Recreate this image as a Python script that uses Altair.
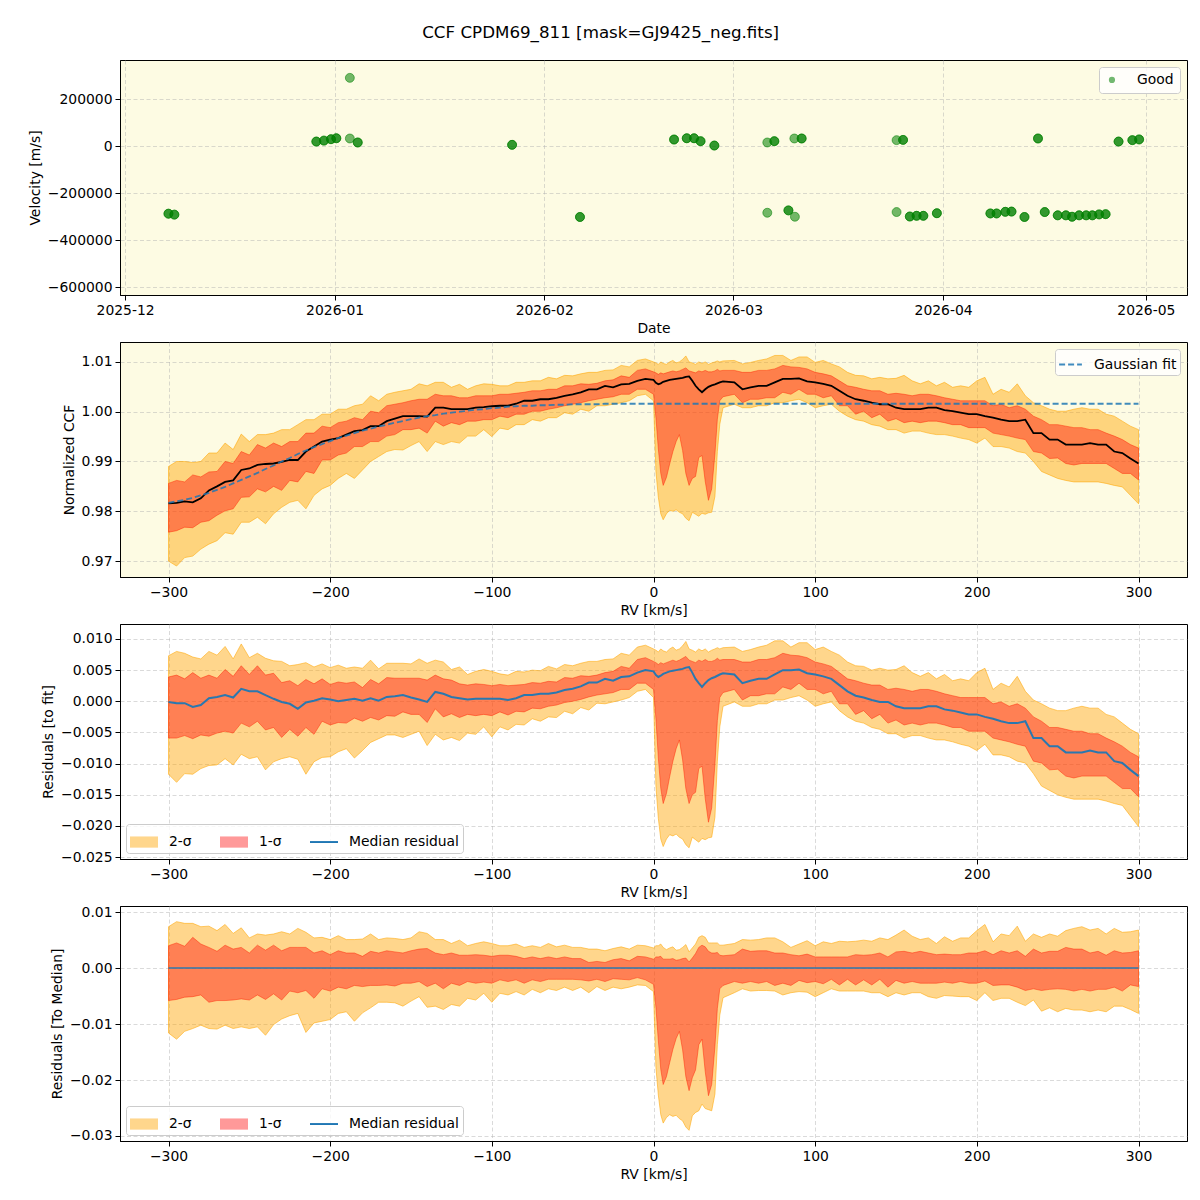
import altair as alt
import pandas as pd

FONT = "DejaVu Sans"
PLOT_BG = "#fdfbe3"
PANEL_W, PANEL_H = 1067, 235

# ---------------- nightly radial velocities (top panel) ----------------
night_time = [
    "2025-12-07T10:00:00Z", "2025-12-08T07:00:00Z", "2025-12-29T07:00:00Z",
    "2025-12-30T10:00:00Z", "2025-12-31T11:00:00Z", "2026-01-01T06:00:00Z",
    "2026-01-03T06:00:00Z", "2026-01-03T06:00:00Z", "2026-01-04T10:00:00Z",
    "2026-01-27T06:00:00Z", "2026-02-06T07:00:00Z", "2026-02-20T05:00:00Z",
    "2026-02-22T02:00:00Z", "2026-02-23T04:00:00Z", "2026-02-24T03:00:00Z",
    "2026-02-26T04:00:00Z", "2026-03-06T00:00:00Z", "2026-03-06T00:00:00Z",
    "2026-03-07T01:00:00Z", "2026-03-09T03:00:00Z", "2026-03-10T00:00:00Z",
    "2026-03-10T02:00:00Z", "2026-03-11T02:00:00Z", "2026-03-25T03:00:00Z",
    "2026-03-25T03:00:00Z", "2026-03-26T02:00:00Z", "2026-03-27T02:00:00Z",
    "2026-03-28T02:00:00Z", "2026-03-29T02:00:00Z", "2026-03-31T02:00:00Z",
    "2026-04-08T00:00:00Z", "2026-04-08T22:00:00Z", "2026-04-10T05:00:00Z",
    "2026-04-11T03:00:00Z", "2026-04-13T01:00:00Z", "2026-04-15T01:00:00Z",
    "2026-04-16T01:00:00Z", "2026-04-17T23:00:00Z", "2026-04-19T04:00:00Z",
    "2026-04-20T02:00:00Z", "2026-04-21T03:00:00Z", "2026-04-22T04:00:00Z",
    "2026-04-23T02:00:00Z", "2026-04-24T02:00:00Z", "2026-04-25T01:00:00Z",
    "2026-04-26T23:00:00Z", "2026-04-29T00:00:00Z", "2026-04-30T00:00:00Z",
]
night_rv = [
    -286000, -290000, 21000,
    25000, 31000, 35000,
    292000, 34000, 17000,
    7000, -300000, 29600,
    35000, 35000, 22600,
    4000, 17000, -282000,
    22600, -272000, 34000,
    -299000, 34000, 27000,
    -279000, 28000, -298000,
    -295000, -295000, -284000,
    -285000, -285000, -278000,
    -277000, -300000, 34000,
    -279000, -293000, -293000,
    -299000, -293000, -293000,
    -293000, -289000, -288000,
    21000, 27000, 30000,
]
# exposures taken on each night
night_nexp = [
    2, 2, 2,
    2, 2, 2,
    1, 1, 2,
    2, 2, 2,
    2, 2, 2,
    2, 1, 1,
    2, 2, 1,
    1, 2, 1,
    1, 2, 2,
    2, 2, 2,
    2, 2, 2,
    2, 2, 2,
    2, 2, 2,
    2, 2, 2,
    2, 2, 2,
    2, 2, 2,
]

# ---------------- CCF profile statistics vs RV ----------------
rv_kms = [
    -300, -295, -290, -285, -280, -275, -270, -265, -260, -255,
    -250, -245, -240, -235, -230, -225, -220, -215, -210, -205,
    -200, -195, -190, -185, -180, -175, -170, -165, -160, -155,
    -150, -145, -140, -135, -130, -125, -120, -115, -110, -105,
    -100, -95, -90, -85, -80, -75, -70, -65, -60, -55,
    -50, -45, -40, -35, -30, -25, -20, -15, -10, -5,
    0, 1.5, 3, 4.5, 6, 8, 10, 12, 14, 16, 18, 20,
    22, 24, 26, 28, 30, 32, 34, 36, 38, 39.5, 41, 43,
    50, 55, 60, 65, 70, 75, 80, 85, 90, 95,
    100, 105, 110, 115, 120, 125, 130, 135, 140, 145,
    150, 155, 160, 165, 170, 175, 180, 185, 190, 195,
    200, 205, 210, 215, 220, 225, 230, 235, 240, 245,
    250, 255, 260, 265, 270, 275, 280, 285, 290, 295,
    300,
]
ccf_hi2 = [
    0.9890, 0.9900, 0.9900, 0.9898, 0.9900, 0.9917, 0.9917, 0.9937, 0.9924, 0.9955,
    0.9940, 0.9954, 0.9954, 0.9957, 0.9964, 0.9964, 0.9974, 0.9984, 0.9984, 0.9995,
    0.9995, 1.0005, 1.0005, 1.0012, 1.0015, 1.0032, 1.0022, 1.0035, 1.0039, 1.0042,
    1.0045, 1.0056, 1.0052, 1.0059, 1.0059, 1.0049, 1.0055, 1.0045, 1.0052, 1.0056,
    1.0055, 1.0052, 1.0052, 1.0059, 1.0059, 1.0062, 1.0062, 1.0069, 1.0066, 1.0073,
    1.0072, 1.0076, 1.0079, 1.0079, 1.0083, 1.0084, 1.0093, 1.0090, 1.0103, 1.0106,
    1.0100, 1.0098, 1.0095, 1.0100, 1.0097, 1.0095, 1.0100, 1.0103, 1.0098, 1.0100, 1.0105, 1.0112,
    1.0100, 1.0098, 1.0095, 1.0100, 1.0097, 1.0100, 1.0095, 1.0098, 1.0100, 1.0102, 1.0100, 1.0102,
    1.0103, 1.0096, 1.0099, 1.0103, 1.0106, 1.0113, 1.0113, 1.0103, 1.0110, 1.0110,
    1.0099, 1.0103, 1.0096, 1.0090, 1.0079, 1.0073, 1.0072, 1.0066, 1.0069, 1.0066,
    1.0067, 1.0073, 1.0062, 1.0056, 1.0062, 1.0052, 1.0059, 1.0049, 1.0052, 1.0049,
    1.0062, 1.0069, 1.0035, 1.0045, 1.0039, 1.0056, 1.0032, 1.0018, 1.0012, 1.0005,
    1.0001, 1.0001, 1.0005, 1.0008, 1.0005, 1.0005, 0.9995, 0.9991, 0.9981, 0.9971,
    0.9964,
]
ccf_hi1 = [
    0.9856, 0.9862, 0.9859, 0.9873, 0.9869, 0.9879, 0.9880, 0.9900, 0.9896, 0.9920,
    0.9913, 0.9934, 0.9927, 0.9937, 0.9930, 0.9940, 0.9940, 0.9957, 0.9957, 0.9971,
    0.9968, 0.9978, 0.9981, 0.9988, 0.9984, 1.0001, 0.9998, 1.0012, 1.0015, 1.0018,
    1.0022, 1.0025, 1.0025, 1.0035, 1.0032, 1.0032, 1.0028, 1.0028, 1.0032, 1.0032,
    1.0032, 1.0035, 1.0035, 1.0037, 1.0039, 1.0042, 1.0042, 1.0045, 1.0045, 1.0052,
    1.0052, 1.0056, 1.0055, 1.0057, 1.0062, 1.0064, 1.0072, 1.0069, 1.0083, 1.0086,
    1.0080, 1.0078, 1.0075, 1.0078, 1.0076, 1.0078, 1.0080, 1.0082, 1.0080, 1.0082, 1.0085, 1.0088,
    1.0082, 1.0080, 1.0078, 1.0082, 1.0080, 1.0083, 1.0080, 1.0080, 1.0082, 1.0085, 1.0082, 1.0083,
    1.0083, 1.0079, 1.0079, 1.0083, 1.0083, 1.0086, 1.0093, 1.0090, 1.0089, 1.0086,
    1.0079, 1.0076, 1.0072, 1.0062, 1.0052, 1.0049, 1.0045, 1.0042, 1.0042, 1.0035,
    1.0037, 1.0035, 1.0032, 1.0035, 1.0035, 1.0032, 1.0028, 1.0025, 1.0022, 1.0022,
    1.0022, 1.0022, 1.0012, 1.0015, 1.0008, 1.0012, 1.0005, 0.9991, 0.9984, 0.9974,
    0.9974, 0.9971, 0.9968, 0.9968, 0.9964, 0.9964, 0.9957, 0.9951, 0.9944, 0.9934,
    0.9927,
]
ccf_median = [
    0.9816, 0.9817, 0.9820, 0.9818, 0.9826, 0.9842, 0.9850, 0.9859, 0.9862, 0.9883,
    0.9886, 0.9893, 0.9895, 0.9896, 0.9899, 0.9903, 0.9903, 0.9920, 0.9930, 0.9940,
    0.9944, 0.9947, 0.9954, 0.9961, 0.9963, 0.9971, 0.9971, 0.9981, 0.9986, 0.9991,
    0.9991, 0.9991, 0.9990, 1.0008, 1.0008, 1.0005, 1.0005, 1.0005, 1.0008, 1.0009,
    1.0011, 1.0012, 1.0012, 1.0016, 1.0022, 1.0022, 1.0025, 1.0025, 1.0028, 1.0032,
    1.0035, 1.0039, 1.0045, 1.0045, 1.0052, 1.0049, 1.0055, 1.0056, 1.0062, 1.0066,
    1.0064, 1.0058, 1.0055, 1.0057, 1.0060, 1.0062, 1.0064, 1.0065, 1.0066, 1.0067, 1.0068, 1.0070,
    1.0071, 1.0062, 1.0052, 1.0045, 1.0039, 1.0045, 1.0050, 1.0053, 1.0055, 1.0057, 1.0059, 1.0061,
    1.0059, 1.0045, 1.0049, 1.0052, 1.0052, 1.0059, 1.0066, 1.0066, 1.0067, 1.0061,
    1.0059, 1.0056, 1.0052, 1.0042, 1.0032, 1.0025, 1.0022, 1.0018, 1.0015, 1.0015,
    1.0008, 1.0005, 1.0005, 1.0005, 1.0008, 1.0008, 1.0003, 1.0001, 0.9998, 0.9995,
    0.9995, 0.9991, 0.9988, 0.9984, 0.9981, 0.9981, 0.9984, 0.9957, 0.9957, 0.9944,
    0.9944, 0.9934, 0.9934, 0.9934, 0.9937, 0.9934, 0.9934, 0.9920, 0.9917, 0.9906,
    0.9896,
]
ccf_lo1 = [
    0.9758, 0.9761, 0.9768, 0.9767, 0.9778, 0.9781, 0.9792, 0.9801, 0.9805, 0.9828,
    0.9829, 0.9845, 0.9839, 0.9850, 0.9842, 0.9862, 0.9859, 0.9880, 0.9876, 0.9903,
    0.9903, 0.9913, 0.9917, 0.9930, 0.9930, 0.9940, 0.9940, 0.9951, 0.9954, 0.9964,
    0.9964, 0.9967, 0.9957, 0.9981, 0.9971, 0.9978, 0.9974, 0.9981, 0.9981, 0.9984,
    0.9984, 0.9991, 0.9988, 0.9995, 0.9995, 1.0001, 1.0001, 1.0005, 1.0008, 1.0012,
    1.0015, 1.0018, 1.0022, 1.0025, 1.0028, 1.0030, 1.0035, 1.0035, 1.0045, 1.0045,
    1.0035, 0.9988, 0.9925, 0.9876, 0.9852, 0.9868, 0.9895, 0.9920, 0.9940, 0.9954, 0.9922, 0.9876,
    0.9852, 0.9866, 0.9870, 0.9908, 0.9912, 0.9860, 0.9822, 0.9845, 0.9915, 0.9985, 1.0022, 1.0030,
    1.0035, 1.0018, 1.0025, 1.0025, 1.0028, 1.0028, 1.0039, 1.0035, 1.0045, 1.0035,
    1.0035, 1.0028, 1.0032, 1.0012, 1.0012, 0.9995, 1.0001, 0.9988, 0.9995, 0.9981,
    0.9986, 0.9978, 0.9981, 0.9978, 0.9981, 0.9981, 0.9978, 0.9974, 0.9974, 0.9968,
    0.9968, 0.9968, 0.9957, 0.9954, 0.9951, 0.9947, 0.9944, 0.9920, 0.9917, 0.9906,
    0.9907, 0.9896, 0.9893, 0.9896, 0.9896, 0.9896, 0.9896, 0.9886, 0.9876, 0.9876,
    0.9863,
]
ccf_lo2 = [
    0.9700, 0.9690, 0.9707, 0.9710, 0.9724, 0.9734, 0.9741, 0.9757, 0.9754, 0.9778,
    0.9778, 0.9788, 0.9775, 0.9795, 0.9808, 0.9818, 0.9822, 0.9805, 0.9832, 0.9845,
    0.9852, 0.9866, 0.9876, 0.9866, 0.9883, 0.9900, 0.9910, 0.9920, 0.9924, 0.9923,
    0.9932, 0.9940, 0.9920, 0.9940, 0.9934, 0.9940, 0.9937, 0.9951, 0.9951, 0.9964,
    0.9950, 0.9967, 0.9964, 0.9974, 0.9974, 0.9984, 0.9981, 0.9988, 0.9988, 0.9998,
    0.9995, 1.0005, 1.0001, 1.0012, 1.0012, 1.0015, 1.0018, 1.0022, 1.0032, 1.0035,
    1.0022, 0.9880, 0.9828, 0.9795, 0.9783, 0.9795, 0.9802, 0.9800, 0.9803, 0.9798, 0.9795, 0.9786,
    0.9781, 0.9798, 0.9794, 0.9790, 0.9796, 0.9794, 0.9797, 0.9798, 0.9830, 0.9920, 0.9975, 1.0008,
    1.0015, 1.0008, 1.0008, 1.0012, 1.0012, 1.0018, 1.0018, 1.0022, 1.0025, 1.0018,
    1.0008, 1.0012, 1.0015, 1.0001, 0.9991, 0.9984, 0.9981, 0.9974, 0.9971, 0.9964,
    0.9964, 0.9957, 0.9961, 0.9961, 0.9957, 0.9954, 0.9954, 0.9951, 0.9947, 0.9944,
    0.9937, 0.9947, 0.9930, 0.9930, 0.9927, 0.9920, 0.9917, 0.9900, 0.9880, 0.9873,
    0.9866, 0.9862, 0.9859, 0.9859, 0.9859, 0.9859, 0.9856, 0.9852, 0.9849, 0.9832,
    0.9815,
]
gauss_fit = [
    0.9817, 0.9820, 0.9823, 0.9827, 0.9832, 0.9837, 0.9843, 0.9849, 0.9856, 0.9863,
    0.9870, 0.9877, 0.9885, 0.9892, 0.9900, 0.9907, 0.9915, 0.9922, 0.9929, 0.9935,
    0.9941, 0.9947, 0.9952, 0.9957, 0.9962, 0.9966, 0.9970, 0.9974, 0.9978, 0.9981,
    0.9985, 0.9988, 0.9991, 0.9993, 0.9996, 0.9998, 1.0000, 1.0002, 1.0004, 1.0005,
    1.0007, 1.0008, 1.0010, 1.0011, 1.0012, 1.0012, 1.0013, 1.0013, 1.0014, 1.0014,
    1.0015, 1.0015, 1.0015, 1.0015, 1.0016, 1.0016, 1.0016, 1.0016, 1.0016, 1.0016,
    1.0016, 1.0016, 1.0016, 1.0016, 1.0016, 1.0016, 1.0016, 1.0016, 1.0016, 1.0016, 1.0016, 1.0016,
    1.0016, 1.0016, 1.0016, 1.0016, 1.0016, 1.0016, 1.0016, 1.0016, 1.0016, 1.0016, 1.0016, 1.0016,
    1.0016, 1.0016, 1.0016, 1.0016, 1.0016, 1.0016, 1.0016, 1.0016, 1.0016, 1.0016,
    1.0016, 1.0016, 1.0016, 1.0016, 1.0016, 1.0016, 1.0016, 1.0016, 1.0016, 1.0016,
    1.0016, 1.0016, 1.0016, 1.0016, 1.0016, 1.0016, 1.0016, 1.0016, 1.0016, 1.0016,
    1.0016, 1.0016, 1.0016, 1.0016, 1.0016, 1.0016, 1.0016, 1.0016, 1.0016, 1.0016,
    1.0016, 1.0016, 1.0016, 1.0016, 1.0016, 1.0016, 1.0016, 1.0016, 1.0016, 1.0016,
    1.0016,
]

band_names = ["2-σ", "1-σ", "Median residual"]

# ---------------- tables ----------------
obs_rows = []
for t, v, n in zip(night_time, night_rv, night_nexp):
    for _ in range(n):
        obs_rows.append({"time": t, "vel": v, "flag": "Good"})
obs = pd.DataFrame(obs_rows)

ccf = pd.DataFrame({
    "rv": rv_kms, "hi2": ccf_hi2, "hi1": ccf_hi1, "med": ccf_median,
    "lo1": ccf_lo1, "lo2": ccf_lo2, "fit": gauss_fit,
})
# residuals to the Gaussian fit and to the median profile
for c in ["hi2", "hi1", "med", "lo1", "lo2"]:
    ccf["f_" + c] = ccf[c] - ccf["fit"]
    ccf["m_" + c] = ccf[c] - ccf["med"]

legend_keys = pd.DataFrame({"band": band_names})

ORANGE_FILL = "rgba(255,165,0,0.45)"
RED_FILL = "rgba(255,0,0,0.4)"
ORANGE_EDGE = "rgba(255,165,0,0.55)"
RED_EDGE = "rgba(255,30,0,0.45)"
BLUE = "#1f77b4"
SWATCH = "M-1,-0.4H1V0.4H-1Z"
THIN = "M-1,-0.07H1V0.07H-1Z"

rv_scale = alt.Scale(domain=[-330, 330], nice=False, zero=False)
rv_axis = alt.Axis(title="RV [km/s]", values=[-300, -200, -100, 0, 100, 200, 300],
                   format="d", tickCount=20)

# ---------------- panel 1: velocities over time ----------------
date_scale = alt.Scale(
    type="utc",
    domain=[alt.DateTime(year=2025, month=11, date=30, hours=6, utc=True),
            alt.DateTime(year=2026, month=5, date=7, hours=2, utc=True)],
)
month_ticks = [alt.DateTime(year=y, month=m, date=1, utc=True)
               for y, m in [(2025, 12), (2026, 1), (2026, 2), (2026, 3), (2026, 4), (2026, 5)]]

p_vel = alt.Chart(obs).mark_point(
    filled=True, size=80, stroke="green", strokeWidth=1, fillOpacity=0.55, strokeOpacity=0.55
).encode(
    x=alt.X("time:T", scale=date_scale,
            axis=alt.Axis(title="Date", values=month_ticks, format="%Y-%m", tickCount=20)),
    y=alt.Y("vel:Q", scale=alt.Scale(domain=[-632000, 368000], nice=False, zero=False),
            axis=alt.Axis(title="Velocity [m/s]", labelOverlap=False, tickCount=20,
                          values=[-600000, -400000, -200000, 0, 200000], format="d")),
    color=alt.Color("flag:N", scale=alt.Scale(domain=["Good"], range=["green"]),
                    legend=alt.Legend(title=None, orient="top-right", offset=7,
                                      symbolSize=22, symbolOpacity=0.55, symbolType="circle",
                                      labelOffset=18, padding=6)),
).properties(width=PANEL_W, height=PANEL_H)

# ---------------- panel 2: normalized CCF ----------------
base = alt.Chart(ccf).encode(x=alt.X("rv:Q", scale=rv_scale, axis=rv_axis))
ccf_y = alt.Scale(domain=[0.9668, 1.0140], nice=False, zero=False)

p_ccf = alt.layer(
    base.mark_area(fill=ORANGE_FILL, stroke=ORANGE_EDGE, strokeWidth=1).encode(
        y=alt.Y("lo2:Q", scale=ccf_y,
                axis=alt.Axis(title="Normalized CCF", labelOverlap=False, tickCount=20,
                              values=[0.97, 0.98, 0.99, 1.00, 1.01], format=".2f")),
        y2="hi2:Q"),
    base.mark_area(fill=RED_FILL, stroke=RED_EDGE, strokeWidth=1).encode(y="lo1:Q", y2="hi1:Q"),
    base.mark_line(color="black", strokeWidth=1.8).encode(y="med:Q"),
    base.mark_line(strokeDash=[6, 3], strokeWidth=1.8, opacity=0.85).transform_calculate(
        model="'Gaussian fit'"
    ).encode(
        y="fit:Q",
        color=alt.Color("model:N",
                        scale=alt.Scale(domain=["Gaussian fit"], range=[BLUE]),
                        legend=alt.Legend(title=None, orient="top-right", offset=7,
                                          symbolType="stroke", symbolSize=520,
                                          symbolStrokeWidth=1.8, symbolDash=[6, 3],
                                          symbolOpacity=0.85, labelOffset=11, padding=3))),
).properties(width=PANEL_W, height=PANEL_H)

# ---------------- residual panels ----------------
band_legend = alt.Legend(
    title=None, orient="bottom-left", direction="horizontal", columns=3, offset=6,
    labelOffset=11, columnPadding=28, padding=4, symbolSize=784, symbolOpacity=1,
    symbolStrokeWidth=0,
)
band_colors = alt.Scale(domain=band_names, range=[ORANGE_FILL, RED_FILL, BLUE])
band_shapes = alt.Scale(domain=band_names, range=[SWATCH, SWATCH, THIN])


def residual_panel(prefix, title, domain, ticks, fmt, line_opacity):
    y_scale = alt.Scale(domain=domain, nice=False, zero=False)
    # legend keys only (the symbols themselves are not drawn in the plot)
    keys = alt.Chart(legend_keys).mark_point(filled=True, opacity=0).encode(
        color=alt.Color("band:N", scale=band_colors, legend=band_legend),
        shape=alt.Shape("band:N", scale=band_shapes, legend=band_legend),
    )
    return alt.layer(
        base.mark_area(fill=ORANGE_FILL, stroke=ORANGE_EDGE, strokeWidth=1).encode(
            y=alt.Y(f"{prefix}lo2:Q", scale=y_scale,
                    axis=alt.Axis(title=title, values=ticks, format=fmt,
                                  labelOverlap=False, tickCount=20)),
            y2=f"{prefix}hi2:Q"),
        base.mark_area(fill=RED_FILL, stroke=RED_EDGE, strokeWidth=1).encode(
            y=f"{prefix}lo1:Q", y2=f"{prefix}hi1:Q"),
        base.mark_line(color=BLUE, strokeWidth=2, opacity=line_opacity).encode(
            y=f"{prefix}med:Q"),
        keys,
    ).properties(width=PANEL_W, height=PANEL_H)


p_fit = residual_panel("f_", "Residuals [to fit]", [-0.0253, 0.0124],
                       [-0.025, -0.020, -0.015, -0.010, -0.005, 0.0, 0.005, 0.010], ".3f", 0.95)
p_medres = residual_panel("m_", "Residuals [To Median]", [-0.0309, 0.0111],
                          [-0.03, -0.02, -0.01, 0.0, 0.01], ".2f", 0.7)

chart = alt.vconcat(
    p_vel, p_ccf, p_fit, p_medres, spacing=47, bounds="flush"
).resolve_scale(color="independent", shape="independent").resolve_legend(
    color="independent", shape="independent"
).properties(
    title=alt.TitleParams("CCF CPDM69_811 [mask=GJ9425_neg.fits]", anchor="middle", dx=-7,
                          fontSize=16.7, font=FONT, fontWeight="normal", offset=18, color="black"),
    padding={"left": 27, "top": 24, "right": 12, "bottom": 10},
    background="white",
).configure_view(
    fill=PLOT_BG, stroke="black", strokeWidth=1
).configure_axis(
    labelFont=FONT, titleFont=FONT, labelFontSize=13.9, titleFontSize=13.9,
    titleFontWeight="normal", labelColor="black", titleColor="black",
    domainColor="black", tickColor="black", tickSize=5, labelPadding=3, titlePadding=5,
    grid=True, gridColor="#b0b0b0", gridOpacity=0.6, gridDash=[4, 2.5], gridWidth=0.8,
    labelFlush=False, labelOverlap=False, zindex=1,
).configure_legend(
    labelFont=FONT, labelFontSize=13.9, labelColor="black",
    fillColor="rgba(255,255,255,0.8)", strokeColor="#cccccc", cornerRadius=3,
)

chart.save("out.html", embed_options={"renderer": "svg", "actions": False})
